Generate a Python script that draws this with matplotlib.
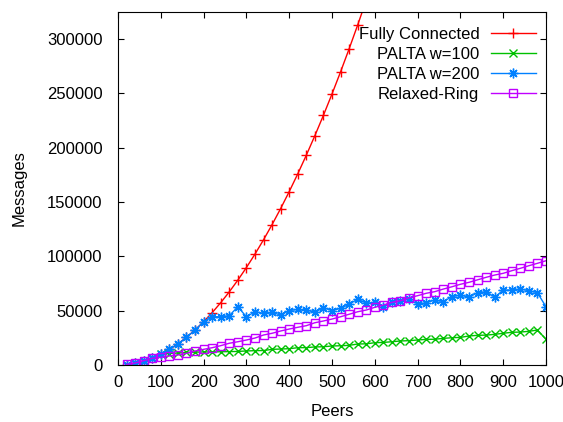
import numpy as np
import matplotlib.pyplot as plt

plt.rcParams['font.family'] = ['Liberation Sans', 'DejaVu Sans']

peers = list(range(20, 1001, 20))

# Fully Connected only shown up to ~600 (it leaves the plot above that)
peers_full = list(range(20, 601, 20))
full_conn = [380, 1560, 3540, 6320, 9900, 14280, 19460, 25440, 32220, 39800,
             48180, 57360, 67340, 78120, 89700, 102080, 115260, 129240, 144020, 159600,
             175980, 193160, 211140, 229920, 249500, 269880, 291060, 313040, 335820, 359400]

palta_100 = [380, 1560, 3540, 6320, 9900, 10500, 11000, 11500, 11800, 12000,
             12000, 12200, 12300, 12500, 12900, 13200, 13300, 14400, 14700, 15000,
             15900, 16000, 16600, 16800, 17500, 17700, 18100, 19300, 19500, 20500,
             20800, 21400, 22100, 22400, 23000, 23600, 23700, 24500, 25100, 25400,
             26700, 27300, 27500, 28200, 29200, 30100, 30300, 31000, 32200, 23600]

palta_200 = [380, 1560, 3540, 6320, 9900, 14280, 19460, 25440, 32220, 39800,
             44400, 44400, 45400, 53600, 44400, 49000, 47600, 48500, 46000, 50000,
             51200, 50600, 48500, 52700, 50000, 52200, 55800, 60700, 56800, 57700,
             53600, 57700, 59200, 60500, 56100, 57300, 59800, 58300, 62900, 64400,
             62300, 66500, 67500, 62300, 69000, 69000, 69900, 68400, 66500, 53600]

relaxed_ring = [500, 1800, 4000, 6200, 7000, 8300, 9200, 10700, 12900, 14400,
                15900, 17800, 20000, 21400, 23000, 24800, 27600, 29200, 31300, 33100,
                34700, 36200, 38900, 40500, 42300, 44400, 46700, 49000, 50600, 53100,
                55200, 57700, 59200, 61900, 63800, 66000, 67500, 69900, 72000, 74300,
                76100, 78400, 80700, 82800, 84400, 86800, 89000, 91400, 93600, 96000]

fig = plt.figure(figsize=(5.63, 4.22), dpi=100)
ax = fig.add_axes([0.2096, 0.1351, 0.7602, 0.8365])

ms = 6
ax.plot(peers_full, full_conn, color='#ff0000', lw=1, marker='+', ms=ms + 1,
        mew=1, label='Fully Connected')
ax.plot(peers, palta_100, color='#00c000', lw=1, marker='x', ms=ms,
        mew=1, label='PALTA w=100')
ax.plot(peers, palta_200, color='#0080ff', lw=1, marker=(8, 2, 0), ms=ms + 1,
        mew=1, label='PALTA w=200')
ax.plot(peers, relaxed_ring, color='#c000ff', lw=1, marker='s', ms=ms,
        mew=1, fillstyle='none', label='Relaxed-Ring')

ax.set_xlim(0, 1000)
ax.set_ylim(0, 325000)
ax.set_xticks(np.arange(0, 1001, 100))
ax.set_yticks(np.arange(0, 300001, 50000))
ax.tick_params(direction='in', length=4, top=True, right=True, labelsize=12)
ax.tick_params(axis='y', pad=11)
ax.tick_params(axis='x', pad=7)
ax.set_xlabel('Peers', fontsize=12, labelpad=10)
ax.set_ylabel('Messages', fontsize=12, labelpad=15)

ax.legend(loc='upper right', bbox_to_anchor=(0.9766, 0.958), frameon=False,
          markerfirst=False, fontsize=12, handlelength=2.7, handletextpad=0.7,
          labelspacing=0.3, borderpad=0, borderaxespad=0)

fig.savefig('out.png', dpi=100)
